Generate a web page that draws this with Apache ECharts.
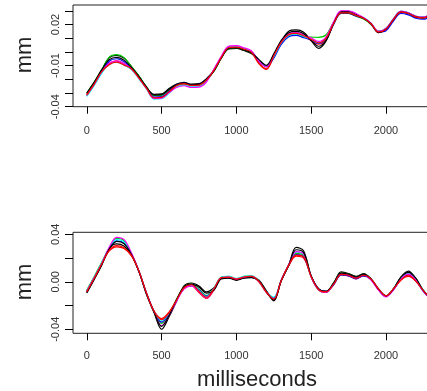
<!DOCTYPE html>
<html>
<head>
<meta charset="utf-8">
<script src="https://cdn.jsdelivr.net/npm/echarts@6/dist/echarts.min.js"></script>
<style>
html,body{margin:0;padding:0;background:#fff;}
#chart{width:427px;height:391px;}
</style>
</head>
<body>
<div id="chart"></div>
<script>
// time in milliseconds (shared by all curves)
var times = [0,50,100,150,200,250,300,350,400,450,500,550,600,650,700,750,800,850,900,950,1000,1050,1100,1150,1200,1250,1300,1350,1400,1450,1500,1550,1600,1650,1700,1750,1800,1850,1900,1950,2000,2050,2100,2150,2200,2250,2300];

// top panel curves (mm)
var topBlack1 = [-0.0305,-0.0225,-0.0135,-0.0043,-0.0025,-0.0047,-0.011,-0.0178,-0.0262,-0.031,-0.0307,-0.0267,-0.0235,-0.0222,-0.0235,-0.0232,-0.0195,-0.0135,-0.004,0.0022,0.0025,0.001,-0.0012,-0.0065,-0.0108,-0.003,0.0075,0.015,0.016,0.0143,0.0082,0.0026,0.008,0.0205,0.0295,0.0295,0.0275,0.0245,0.0205,0.015,0.017,0.024,0.0295,0.0285,0.026,0.0253,0.0275];
var topRed1 = [-0.031,-0.023,-0.014,-0.0083,-0.0065,-0.0087,-0.0125,-0.0193,-0.0267,-0.034,-0.0337,-0.0292,-0.025,-0.0237,-0.025,-0.0247,-0.021,-0.0135,-0.004,0.0037,0.004,0.0025,0.0003,-0.008,-0.0123,-0.0035,0.0065,0.012,0.013,0.0113,0.0082,0.0056,0.009,0.0205,0.0285,0.0285,0.0265,0.0245,0.0205,0.014,0.0165,0.0235,0.029,0.028,0.0255,0.0248,0.027];
var topGreen = [-0.03,-0.022,-0.013,-0.0038,-0.002,-0.0042,-0.011,-0.0178,-0.0257,-0.032,-0.0317,-0.0277,-0.0245,-0.0232,-0.0245,-0.0242,-0.0205,-0.014,-0.0045,0.0027,0.003,0.0015,-0.0007,-0.006,-0.0103,-0.004,0.006,0.0115,0.0125,0.0108,0.0107,0.0106,0.0125,0.0215,0.028,0.028,0.026,0.024,0.02,0.0145,0.0165,0.0235,0.029,0.028,0.0255,0.0248,0.027];
var topBlue = [-0.032,-0.024,-0.015,-0.0068,-0.005,-0.0072,-0.012,-0.0188,-0.0262,-0.033,-0.0327,-0.0287,-0.024,-0.0227,-0.024,-0.0237,-0.02,-0.0135,-0.004,0.0032,0.0035,0.002,-0.0002,-0.0065,-0.0108,-0.0045,0.0055,0.011,0.012,0.0103,0.0087,0.0061,0.0095,0.02,0.028,0.028,0.026,0.0245,0.0205,0.0145,0.0155,0.0225,0.028,0.027,0.0245,0.0238,0.026];
var topCyan = [-0.0325,-0.0245,-0.0155,-0.0093,-0.0075,-0.0097,-0.013,-0.0198,-0.0272,-0.0345,-0.0342,-0.0302,-0.0255,-0.0242,-0.0255,-0.0252,-0.0215,-0.013,-0.0035,0.0037,0.004,0.0025,0.0003,-0.006,-0.0103,-0.0035,0.0065,0.012,0.013,0.0113,0.0092,0.0066,0.01,0.0205,0.0285,0.0285,0.0265,0.025,0.021,0.015,0.017,0.024,0.0295,0.0285,0.026,0.0253,0.0275];
var topMagenta = [-0.0315,-0.0235,-0.0145,-0.0083,-0.0065,-0.0087,-0.0125,-0.0193,-0.0267,-0.034,-0.0337,-0.0297,-0.026,-0.0247,-0.026,-0.0257,-0.022,-0.0125,-0.003,0.0042,0.0045,0.003,0.0008,-0.0065,-0.0108,-0.0025,0.0075,0.013,0.014,0.0123,0.0102,0.0076,0.011,0.022,0.03,0.03,0.028,0.025,0.021,0.015,0.017,0.024,0.0295,0.0285,0.026,0.0253,0.0275];
var topBlack2 = [-0.03,-0.022,-0.013,-0.0058,-0.004,-0.0062,-0.0115,-0.0183,-0.0257,-0.0315,-0.0312,-0.0272,-0.024,-0.0227,-0.024,-0.0237,-0.02,-0.014,-0.0045,0.0027,0.003,0.0015,-0.0007,-0.0055,-0.0098,-0.0015,0.0085,0.014,0.015,0.0133,0.0082,0.0041,0.0085,0.0205,0.0285,0.0285,0.0265,0.0245,0.0205,0.014,0.0165,0.0235,0.029,0.028,0.0255,0.0248,0.027];
var topRed2 = [-0.0315,-0.0235,-0.0145,-0.0093,-0.0075,-0.0097,-0.0125,-0.0193,-0.0267,-0.0335,-0.0332,-0.0292,-0.0245,-0.0232,-0.0245,-0.0242,-0.0205,-0.0135,-0.004,0.0032,0.0035,0.002,-0.0002,-0.0085,-0.0128,-0.003,0.007,0.0125,0.0135,0.0118,0.0092,0.0066,0.01,0.0205,0.0285,0.0285,0.0265,0.0245,0.0205,0.0145,0.0165,0.0235,0.029,0.028,0.0255,0.0248,0.027];

// bottom panel curves (mm)
var botBlack1 = [-0.0095,0.002,0.014,0.028,0.032,0.03,0.0225,0.0085,-0.011,-0.026,-0.04,-0.0295,-0.0165,-0.0035,-0.001,-0.0035,-0.0085,-0.005,0.003,0.0035,0.0017,0.0035,0.004,0.0015,-0.0075,-0.016,0.001,0.014,0.029,0.026,0.0045,-0.006,-0.008,-0.0015,0.0083,0.007,0.0045,0.007,0.0025,-0.0065,-0.0123,-0.006,0.004,0.009,0.0025,-0.0075,-0.014];
var botRed1 = [-0.008,0.0035,0.0155,0.026,0.0295,0.028,0.0215,0.0085,-0.0095,-0.0245,-0.031,-0.0255,-0.0155,-0.006,-0.0035,-0.009,-0.014,-0.007,0.0035,0.004,0.0022,0.004,0.0045,0,-0.009,-0.015,0.0005,0.0135,0.0215,0.02,0.0045,-0.0065,-0.0085,-0.0025,0.0058,0.005,0.0025,0.005,0.002,-0.006,-0.0118,-0.006,0.0015,0.0045,0.0005,-0.0075,-0.014];
var botGreen = [-0.007,0.0045,0.0165,0.0285,0.0365,0.0345,0.0235,0.0085,-0.01,-0.025,-0.035,-0.0275,-0.015,-0.0045,-0.002,-0.0065,-0.0115,-0.0055,0.004,0.0045,0.0027,0.0045,0.005,0.0005,-0.0085,-0.0135,0.001,0.014,0.024,0.022,0.004,-0.007,-0.009,-0.001,0.0073,0.0065,0.004,0.0065,0.002,-0.0065,-0.0123,-0.0065,0.0025,0.0065,0.0015,-0.0075,-0.014];
var botBlue = [-0.0085,0.003,0.015,0.0275,0.0345,0.0325,0.023,0.0085,-0.01,-0.025,-0.034,-0.027,-0.016,-0.0055,-0.003,-0.007,-0.012,-0.0065,0.003,0.0035,0.0017,0.0035,0.004,0.0005,-0.0085,-0.0135,0.001,0.014,0.023,0.021,0.005,-0.006,-0.008,-0.0025,0.0058,0.005,0.0025,0.005,0.002,-0.0065,-0.0123,-0.0065,0.002,0.006,0.001,-0.008,-0.0145];
var botCyan = [-0.0075,0.004,0.016,0.0285,0.0355,0.0335,0.0235,0.0085,-0.01,-0.025,-0.0325,-0.0265,-0.016,-0.0055,-0.003,-0.0075,-0.0125,-0.0055,0.004,0.0045,0.0027,0.0045,0.005,0.001,-0.008,-0.013,0.0015,0.0145,0.025,0.023,0.0045,-0.0065,-0.0085,-0.0015,0.0068,0.006,0.0035,0.006,0.0025,-0.006,-0.0118,-0.006,0.003,0.007,0.002,-0.007,-0.0135];
var botMagenta = [-0.008,0.0035,0.0155,0.029,0.0375,0.0355,0.024,0.0085,-0.01,-0.025,-0.037,-0.0285,-0.0165,-0.006,-0.0035,-0.0085,-0.0135,-0.006,0.0035,0.004,0.0022,0.004,0.0045,0.0005,-0.0085,-0.0145,0.0015,0.0145,0.0255,0.0235,0.004,-0.007,-0.009,-0.0015,0.0068,0.006,0.0035,0.006,0.0015,-0.007,-0.0128,-0.007,0.0025,0.0065,0.0015,-0.008,-0.0145];
var botBlack2 = [-0.009,0.0025,0.0145,0.0275,0.034,0.032,0.0225,0.008,-0.0105,-0.0255,-0.0375,-0.0285,-0.015,-0.0045,-0.002,-0.0045,-0.0095,-0.007,0.0025,0.003,0.0012,0.003,0.0035,0.001,-0.008,-0.0155,0.001,0.014,0.027,0.0245,0.005,-0.006,-0.008,-0.001,0.0073,0.0065,0.004,0.0065,0.0025,-0.006,-0.0118,-0.006,0.004,0.008,0.003,-0.0075,-0.014];
var botRed2 = [-0.0085,0.003,0.015,0.0265,0.0305,0.0285,0.022,0.0085,-0.01,-0.025,-0.032,-0.026,-0.0155,-0.005,-0.0025,-0.008,-0.013,-0.006,0.0035,0.004,0.0022,0.004,0.0045,0.0005,-0.0085,-0.0145,0.001,0.014,0.0225,0.021,0.0045,-0.0065,-0.0085,-0.002,0.0063,0.0055,0.003,0.0055,0.0025,-0.006,-0.0118,-0.006,0.0015,0.0055,0.0005,-0.0075,-0.014];

// tick values and labels
var xTicks = [0,500,1000,1500,2000];
var topYTicks = [-0.04,-0.03,-0.02,-0.01,0,0.01,0.02,0.03];
var topYLabels = [-0.04,-0.01,0.02];
var botYTicks = [-0.04,-0.02,0,0.02,0.04];
var botYLabels = [-0.04,0,0.04];

var curveColors = ['#000000','#FF0000','#00CD00','#0000FF','#00FFFF','#FF00FF','#000000','#FF0000'];
var topCurves = [topBlack1, topRed1, topGreen, topBlue, topCyan, topMagenta, topBlack2, topRed2];
var botCurves = [botBlack1, botRed1, botGreen, botBlue, botCyan, botMagenta, botBlack2, botRed2];

var FONT = '"Liberation Sans", Arial, sans-serif';

function pairs(vals){
  return times.map(function(t,i){ return [t, vals[i]]; });
}
function mkX(gi, margin){
  return {
    gridIndex: gi, type: 'value', min: -92, max: 2392, position: 'bottom',
    axisLine: {show: false, onZero: false},
    splitLine: {show: false},
    axisTick: {show: true, inside: false, customValues: xTicks, length: 7, lineStyle: {color: '#000', width: 1}},
    axisLabel: {show: true, customValues: xTicks, margin: margin, fontSize: 11, color: '#333', fontFamily: FONT,
      formatter: function(v){ return String(v); }}
  };
}
function mkY(gi, mn, mx, ticks, labels){
  return {
    gridIndex: gi, type: 'value', min: mn, max: mx, position: 'left',
    axisLine: {show: false, onZero: false},
    splitLine: {show: false},
    axisTick: {show: true, inside: false, customValues: ticks, length: 8, lineStyle: {color: '#000', width: 1}},
    axisLabel: {show: true, customValues: labels, rotate: 90, margin: 12, fontSize: 11, color: '#333', fontFamily: FONT,
      formatter: function(v){ return v.toFixed(2); }}
  };
}

var series = [];
topCurves.forEach(function(c, k){
  series.push({type: 'line', xAxisIndex: 0, yAxisIndex: 0, data: pairs(c), showSymbol: false, smooth: 0.35,
    lineStyle: {color: curveColors[k], width: 1.2}, silent: true});
});
botCurves.forEach(function(c, k){
  series.push({type: 'line', xAxisIndex: 1, yAxisIndex: 1, data: pairs(c), showSymbol: false, smooth: 0.35,
    lineStyle: {color: curveColors[k], width: 1.2}, silent: true});
});

var chart = echarts.init(document.getElementById('chart'), null, {renderer: 'canvas'});
chart.setOption({
  animation: false,
  backgroundColor: '#ffffff',
  grid: [
    {left: 73, top: 5, width: 371.6, height: 101.7, show: true, borderColor: '#222', borderWidth: 1, backgroundColor: 'transparent', containLabel: false, outerBoundsMode: 'none'},
    {left: 73, top: 232.3, width: 371.6, height: 101, show: true, borderColor: '#222', borderWidth: 1, backgroundColor: 'transparent', containLabel: false, outerBoundsMode: 'none'}
  ],
  xAxis: [mkX(0, 19), mkX(1, 17)],
  yAxis: [mkY(0, -0.04, 0.0342, topYTicks, topYLabels), mkY(1, -0.0434, 0.0417, botYTicks, botYLabels)],
  series: series,
  graphic: [
    {type: 'text', x: 25, y: 55, rotation: Math.PI/2, style: {text: 'mm', font: '22px ' + FONT, fill: '#222', textAlign: 'center', textVerticalAlign: 'middle'}},
    {type: 'text', x: 25, y: 282, rotation: Math.PI/2, style: {text: 'mm', font: '22px ' + FONT, fill: '#222', textAlign: 'center', textVerticalAlign: 'middle'}},
    {type: 'text', x: 257, y: 380, style: {text: 'milliseconds', font: '22px ' + FONT, fill: '#222', textAlign: 'center', textVerticalAlign: 'middle'}}
  ]
});
</script>
</body>
</html>
